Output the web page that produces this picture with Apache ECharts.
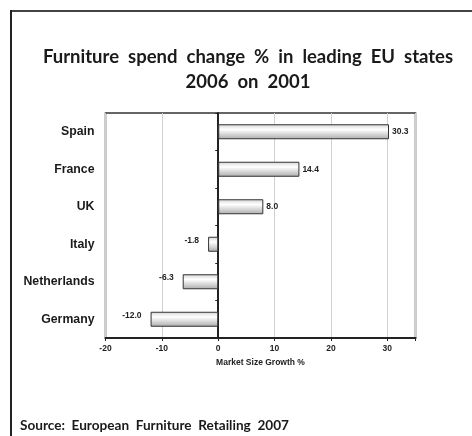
<!DOCTYPE html>
<html>
<head>
<meta charset="utf-8">
<script src="https://cdn.jsdelivr.net/npm/echarts@6/dist/echarts.min.js"></script>
<style>
html,body{margin:0;padding:0;background:#fff;}
#chart{width:472px;height:436px;}
</style>
</head>
<body>
<div id="chart"></div>
<script>
const categories = ['Germany', 'Netherlands', 'Italy', 'UK', 'France', 'Spain'];
const values = [-12.0, -6.3, -1.8, 8.0, 14.4, 30.3];
const xTicks = [-20, -10, 0, 10, 20, 30];
const titleLines = ['Furniture spend change % in leading EU states', '2006 on 2001'];
const axisName = 'Market Size Growth %';
const sourceText = 'Source: European Furniture Retailing 2007';

function wide(s) { return s.split(' ').join('  '); }

const chart = echarts.init(document.getElementById('chart'), null, {renderer: 'canvas'});
const barGradient = new echarts.graphic.LinearGradient(0, 0, 0, 1, [
  {offset: 0, color: '#d4d4d4'},
  {offset: 0.35, color: '#ffffff'},
  {offset: 1, color: '#ababab'}
]);
const option = {
  animation: false,
  backgroundColor: '#fff',
  title: {
    text: titleLines.map(wide).join('\n'),
    left: 243, top: 40, textAlign: 'center',
    textStyle: {fontFamily: 'Lato', fontWeight: 'bold', fontSize: 18.5, color: '#1a1a1a', lineHeight: 25}
  },
  graphic: [
    {type: 'line', shape: {x1: 11, y1: 11, x2: 472, y2: 11}, style: {stroke: '#444', lineWidth: 2}},
    {type: 'line', shape: {x1: 11, y1: 10, x2: 11, y2: 436}, style: {stroke: '#222', lineWidth: 2}},
    {type: 'text', left: 20, top: 419, style: {text: wide(sourceText), fontFamily: 'Lato', fontWeight: 'bold', fontSize: 13.6, fill: '#1a1a1a'}}
  ],
  grid: {left: 105.5, top: 113, width: 310, height: 225, show: true, borderColor: '#333', borderWidth: 1.5, backgroundColor: 'transparent'},
  xAxis: {
    type: 'value', min: -20, max: 35, interval: 10,
    name: axisName, nameLocation: 'middle', nameGap: 19,
    nameTextStyle: {fontFamily: 'Liberation Sans', fontWeight: 'bold', fontSize: 8.5, color: '#222'},
    axisLine: {show: true, onZero: false, lineStyle: {color: '#222', width: 2}},
    axisTick: {show: true, length: 3, lineStyle: {color: '#222'}},
    axisLabel: {
      fontFamily: 'Liberation Sans', fontWeight: 'bold', fontSize: 8.5, color: '#222', margin: 6,
      formatter: function (v) { return xTicks.indexOf(v) >= 0 ? String(v) : ''; }
    },
    splitLine: {show: true, lineStyle: {color: '#d0d0d0', width: 1}}
  },
  yAxis: [
    {
      type: 'category', data: categories, position: 'left',
      axisLine: {show: false, onZero: false},
      axisTick: {show: false},
      axisLabel: {fontFamily: 'Liberation Sans', fontWeight: 'bold', fontSize: 12.3, color: '#1a1a1a', margin: 11},
      splitLine: {show: false}
    },
    {
      type: 'category', data: categories, position: 'left',
      axisLine: {show: true, onZero: true, lineStyle: {color: '#222', width: 2}},
      axisTick: {show: true, length: 3, lineStyle: {color: '#222'}},
      axisLabel: {show: false},
      splitLine: {show: false}
    }
  ],
  series: [{
    type: 'bar', yAxisIndex: 0, data: values.map(function (v) {
      return {
        value: v,
        label: v < 0 ? {position: 'left', distance: 9, offset: [0, -4]} : {position: 'right', distance: 3}
      };
    }),
    barWidth: 15,
    itemStyle: {color: barGradient, borderColor: '#333', borderWidth: 1},
    label: {
      show: true, fontFamily: 'Liberation Sans', fontWeight: 'bold', fontSize: 8.5, color: '#222',
      formatter: function (p) { return p.value.toFixed(1); }
    },
    z: 1
  }]
};
chart.setOption(option);
</script>
</body>
</html>
